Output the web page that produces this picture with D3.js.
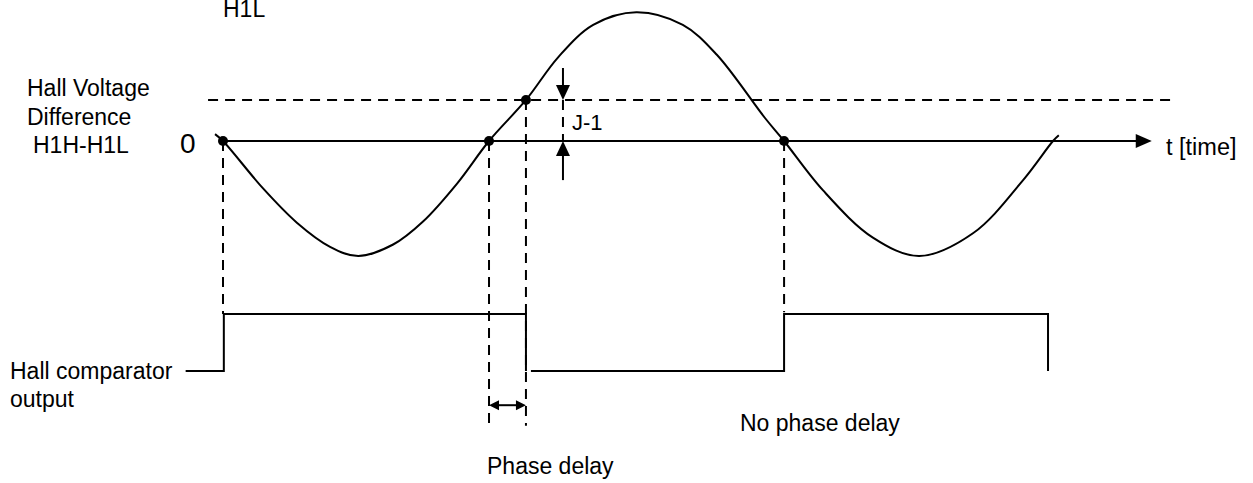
<!DOCTYPE html>
<html>
<head>
<meta charset="utf-8">
<script src="https://cdn.jsdelivr.net/npm/d3@7"></script>
<style>
  body { margin: 0; background: #fff; }
  text { font-family: "Liberation Sans", Arial, sans-serif; fill: #000; }
</style>
</head>
<body>
<div id="chart"></div>
<script>
// hall voltage difference H1H-H1L
// t = time units, v = relative voltage (trough = -1)
var waveT = [-0.96, 0, 4.8, 8.9, 12.9, 16.3, 20.5, 24.1, 28.2, 32.05, 36.5, 40.4, 44.6, 49.8, 55.4, 59.5, 65.3, 67.6, 72.3, 78.3, 83.9, 90.4, 96.4, 100, 100.7];
var waveV = [0.06, 0, -0.41, -0.71, -0.92, -1, -0.9, -0.7, -0.37, 0, 0.357, 0.73, 1.01, 1.12, 1.01, 0.75, 0.2, 0, -0.43, -0.84, -1, -0.8, -0.34, 0, 0.05];

// comparator threshold (dashed line)
var threshold = 0.357;
var thresholdSpan = [-1.8, 114.3];
var axisEnd = 111.9;

// marked points: zero crossings and threshold crossing
var dotT = [0, 32.05, 36.5, 67.6];
var dotV = [0, 0, threshold, 0];

// hall comparator output (0 = low, 1 = high), two pieces
var out1T = [-4.5, 0.1, 0.1, 36.5, 36.5];
var out1L = [0, 0, 1, 1, 0];
var out2T = [37.1, 67.6, 67.6, 99.4, 99.4];
var out2L = [0, 0, 1, 1, 0];

// dashed drop lines: time, top voltage, bottom logic level
var dropT = [0, 32.05, 36.5, 67.6];
var dropV = [0, 0, threshold, 0];
var dropL = [1, -1.02, -0.96, 1.03];

var jT = 40.96;            // J-1 marker
var delayL = -0.6;         // phase delay arrow level

var width = 1253, height = 483;

var x = d3.scaleLinear().domain([0, 100]).range([223, 1053]);
var y = d3.scaleLinear().domain([-1, 1]).range([256, 26]);
var yl = d3.scaleLinear().domain([0, 1]).range([371, 314]);

var svg = d3.select("#chart")
  .append("svg")
    .attr("width", width)
    .attr("height", height);

var dash = "10,7";

// threshold line
svg.append("line")
  .attr("x1", x(thresholdSpan[0])).attr("x2", x(thresholdSpan[1]))
  .attr("y1", y(threshold)).attr("y2", y(threshold))
  .attr("stroke", "#000").attr("stroke-width", 2)
  .attr("stroke-dasharray", dash);

// time axis with arrow
svg.append("line")
  .attr("x1", x(0)).attr("x2", x(axisEnd) - 10)
  .attr("y1", y(0)).attr("y2", y(0))
  .attr("stroke", "#000").attr("stroke-width", 2);
var tip = x(axisEnd);
svg.append("path")
  .attr("d", "M" + tip + "," + y(0) + "L" + (tip - 16) + "," + (y(0) - 7) + "L" + (tip - 16) + "," + (y(0) + 7) + "Z")
  .attr("fill", "#000");

// dashed drop lines
dropT.forEach(function(t, i) {
  svg.append("line")
    .attr("x1", x(t)).attr("x2", x(t))
    .attr("y1", y(dropV[i])).attr("y2", yl(dropL[i]))
    .attr("stroke", "#000").attr("stroke-width", 2)
    .attr("stroke-dasharray", dash);
});

// the wave
var wave = waveT.map(function(t, i) { return [t, waveV[i]]; });
svg.append("path")
  .datum(wave)
  .attr("fill", "none")
  .attr("stroke", "#000")
  .attr("stroke-width", 2)
  .attr("d", d3.line()
    .x(function(d) { return x(d[0]); })
    .y(function(d) { return y(d[1]); })
    .curve(d3.curveCatmullRom.alpha(0.5)));

svg.selectAll("circle.dot")
  .data(dotT)
  .enter().append("circle")
    .attr("class", "dot")
    .attr("cx", function(d) { return x(d); })
    .attr("cy", function(d, i) { return y(dotV[i]); })
    .attr("r", 5)
    .attr("fill", "#000");

// comparator output
var step = d3.line()
  .x(function(d) { return x(d[0]); })
  .y(function(d) { return yl(d[1]); });
[[out1T, out1L], [out2T, out2L]].forEach(function(p) {
  svg.append("path")
    .datum(p[0].map(function(t, i) { return [t, p[1][i]]; }))
    .attr("fill", "none")
    .attr("stroke", "#000")
    .attr("stroke-width", 2)
    .attr("d", step);
});

// J-1 arrows
var jx = x(jT);
svg.append("line").attr("x1", jx).attr("x2", jx)
  .attr("y1", y(threshold)).attr("y2", y(0))
  .attr("stroke", "#000").attr("stroke-width", 2).attr("stroke-dasharray", dash);
svg.append("line").attr("x1", jx).attr("x2", jx)
  .attr("y1", y(0.635)).attr("y2", y(threshold) - 12)
  .attr("stroke", "#000").attr("stroke-width", 2);
svg.append("path")
  .attr("d", "M" + jx + "," + y(threshold) + "L" + (jx - 7) + "," + (y(threshold) - 15) + "L" + (jx + 7) + "," + (y(threshold) - 15) + "Z")
  .attr("fill", "#000");
svg.append("path")
  .attr("d", "M" + jx + "," + y(0) + "L" + (jx - 7) + "," + (y(0) + 15) + "L" + (jx + 7) + "," + (y(0) + 15) + "Z")
  .attr("fill", "#000");
svg.append("line").attr("x1", jx).attr("x2", jx)
  .attr("y1", y(0) + 12).attr("y2", y(-0.34))
  .attr("stroke", "#000").attr("stroke-width", 2);

// phase delay double arrow
var pa = x(dropT[1]), pb = x(dropT[2]), py = yl(delayL);
svg.append("line").attr("x1", pa + 6).attr("x2", pb - 6)
  .attr("y1", py).attr("y2", py)
  .attr("stroke", "#000").attr("stroke-width", 2);
svg.append("path")
  .attr("d", "M" + pa + "," + py + "L" + (pa + 10) + "," + (py - 5) + "L" + (pa + 10) + "," + (py + 5) + "Z" +
             "M" + pb + "," + py + "L" + (pb - 10) + "," + (py - 5) + "L" + (pb - 10) + "," + (py + 5) + "Z")
  .attr("fill", "#000");

// labels
var labels = [
  ["H1L", 223, 17, 23],
  ["Hall Voltage", 27, 96, 23],
  ["Difference", 27, 125, 23],
  ["H1H-H1L", 33, 153, 23],
  ["0", 180, 153, 28],
  ["J-1", 572, 130, 22],
  ["t [time]", 1166, 155, 23.5],
  ["Hall comparator", 10, 379, 23],
  ["output", 10, 407, 23],
  ["No phase delay", 740, 431, 23],
  ["Phase delay", 487, 474, 23]
];
svg.selectAll("text.lbl")
  .data(labels)
  .enter().append("text")
    .attr("class", "lbl")
    .attr("x", function(d) { return d[1]; })
    .attr("y", function(d) { return d[2]; })
    .attr("font-size", function(d) { return d[3] + "px"; })
    .text(function(d) { return d[0]; });
</script>
</body>
</html>
